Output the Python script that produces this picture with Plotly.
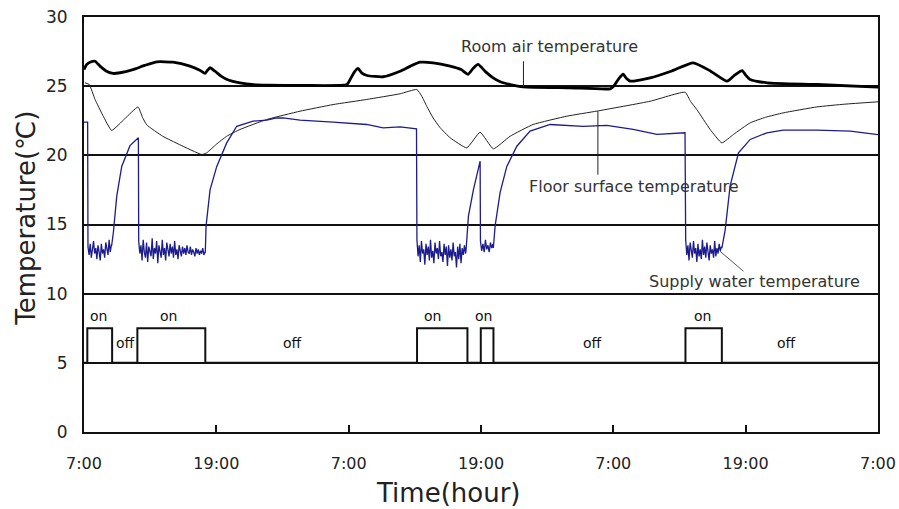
import numpy as np
import plotly.graph_objects as go

# ---------------- data (time in hours from 7:00 of day 1) ----------------
tick_hours = [0, 12, 24, 36, 48, 60, 72]
tick_text = ["7:00", "19:00", "7:00", "19:00", "7:00", "19:00", "7:00"]

room_t = [0.0, 0.24, 0.6, 1.0, 1.45, 2.0, 2.63, 3.27, 4.44, 5.5, 6.62, 8.07, 9.61, 10.5, 10.98,
          11.2, 11.43, 11.88, 12.4, 12.97, 13.5, 14.15, 15.2, 16.6, 20.0, 23.85, 24.13, 24.5,
          24.85, 25.2, 25.67, 27.12, 28.66, 29.6, 30.48, 31.66, 33.2, 34.2, 34.83, 35.3, 35.74,
          36.4, 37.1, 37.8, 38.64, 39.82, 44.0, 47.71, 47.98, 48.5, 48.89, 49.2, 49.52, 51.34,
          53.3, 55.24, 56.8, 58.32, 59.0, 59.68, 60.0, 60.41, 61.95, 66.49, 72.0]
room_v = [26.2, 26.57, 26.75, 26.8, 26.45, 26.1, 25.92, 25.97, 26.2, 26.5, 26.76, 26.73, 26.45,
          26.15, 25.92, 26.15, 26.33, 26.08, 25.75, 25.48, 25.35, 25.24, 25.12, 25.07, 25.05,
          25.12, 25.48, 26.0, 26.28, 25.95, 25.77, 25.68, 26.08, 26.45, 26.73, 26.69, 26.45,
          26.2, 25.86, 26.3, 26.57, 26.05, 25.6, 25.3, 25.12, 24.95, 24.88, 24.81, 24.95,
          25.55, 25.86, 25.55, 25.36, 25.6, 26.1, 26.69, 26.1, 25.36, 25.8, 26.13, 25.8, 25.48,
          25.24, 25.12, 24.93]

floor_t = [0.09, 0.48, 1.0, 1.7, 2.51, 3.7, 4.9, 5.3, 5.69, 7.14, 8.65, 10.68, 11.13, 12.0,
           12.94, 14.15, 16.57, 19.59, 22.59, 25.64, 28.66, 30.18, 30.63, 31.08, 31.66, 32.29,
           33.2, 34.71, 35.92, 37.12, 38.64, 40.73, 43.78, 46.53, 51.34, 54.51, 55.0, 55.57,
           56.78, 57.84, 58.89, 60.41, 61.8, 63.4, 66.46, 69.0, 72.0]
floor_v = [25.24, 25.12, 24.04, 22.9, 21.8, 22.65, 23.5, 22.75, 22.2, 21.38, 20.78, 20.06, 20.18,
           20.8, 21.38, 21.87, 22.59, 23.19, 23.67, 24.04, 24.45, 24.76, 24.27, 23.55, 22.7,
           22.0, 21.27, 20.54, 21.67, 20.47, 21.38, 22.23, 22.83, 23.2, 23.91, 24.56, 23.9,
           23.31, 21.87, 20.9, 21.51, 22.35, 22.75, 23.07, 23.5, 23.7, 23.87]

# supply water: smooth parts
sw0_t = [0.0, 0.33]
sw0_v = [22.4, 22.4]
rise1_t = [2.51, 2.66, 2.97, 3.42, 4.17, 4.93]
rise1_v = [13.5, 14.4, 17.05, 19.2, 20.7, 21.27]
rise2_t = [11.0, 11.07, 11.43, 12.04, 12.94, 13.85, 14.6, 15.33, 16.57, 17.48, 18.05, 19.59,
           22.59, 25.64, 27.12, 28.66, 30.15]
rise2_v = [13.0, 14.9, 17.5, 19.2, 20.9, 22.1, 22.3, 22.47, 22.54, 22.7, 22.71, 22.54,
           22.4, 22.23, 21.99, 22.06, 21.92]
rise3_t = [34.65, 34.86, 35.31, 35.92]
rise3_v = [13.2, 15.6, 17.5, 19.58]
rise4_t = [37.12, 37.28, 37.73, 38.34, 39.25, 40.45, 42.27, 44.35, 45.26, 47.41, 49.8, 51.95, 54.5]
rise4_v = [13.3, 14.9, 17.3, 19.2, 20.66, 21.75, 22.23, 22.16, 22.1, 22.16, 21.87, 21.51, 21.63]
rise5_t = [57.84, 58.14, 58.59, 59.35, 60.41, 61.92, 63.4, 66.46, 69.48, 72.0]
rise5_v = [13.3, 14.6, 17.8, 20.18, 21.15, 21.63, 21.82, 21.82, 21.75, 21.5]

# supply water: noisy low parts while pump on
low1_span = [0.36, 2.48]
low1_v = [13.4, 12.8, 13.6, 12.6, 13.2, 13.8, 12.9, 13.3, 12.5, 13.5, 13.0, 12.4, 13.6, 12.9,
          13.2, 12.6, 13.7, 13.1, 12.8, 13.9, 13.0, 13.5]
low2_span = [4.96, 10.97]
low2_v = [13.8, 12.9, 13.5, 12.4, 13.9, 13.0, 12.6, 13.7, 12.3, 13.4, 13.1, 12.7, 14.0, 12.5,
          13.3, 12.9, 13.8, 12.2, 13.5, 13.0, 12.6, 13.9, 12.8, 13.3, 12.4, 13.7, 13.0, 12.7,
          13.6, 12.9, 13.4, 12.6, 13.8, 12.8, 13.2, 12.5, 13.5, 13.0, 12.7, 13.4, 12.9, 13.3,
          12.8, 13.5, 13.0, 12.9, 13.4, 12.8, 13.2, 13.0, 12.7, 13.3, 12.9, 13.2, 12.8, 13.1,
          12.9, 13.3, 12.8, 13.0]
low3_span = [30.19, 34.6]
low3_v = [13.9, 12.7, 13.5, 12.3, 13.8, 12.9, 13.2, 12.1, 13.6, 12.8, 13.4, 12.4, 13.9, 12.6,
          13.1, 12.2, 13.7, 12.9, 13.3, 12.5, 13.8, 12.7, 13.0, 12.3, 13.6, 12.8, 13.4, 12.0,
          13.5, 12.6, 13.2, 12.4, 13.7, 12.7, 13.0, 11.9, 13.4, 12.5, 13.6, 12.2, 13.3, 12.8,
          13.5, 12.9]
low4_span = [35.95, 37.08]
low4_v = [13.8, 13.1, 13.6, 13.0, 13.9, 13.2, 13.5, 13.0, 13.7, 13.3, 13.6]
low5_span = [54.56, 57.8]
low5_v = [13.9, 12.8, 13.5, 12.4, 13.7, 13.0, 12.6, 13.8, 12.9, 13.3, 12.3, 13.6, 12.7, 13.2,
          12.5, 13.9, 12.8, 13.4, 12.6, 13.7, 13.0, 12.4, 13.5, 12.9, 13.2, 12.6, 13.8, 12.7,
          13.3, 12.9, 13.6, 13.1, 13.4]

# pump on/off status (5 = off, 7.5 = on)
pump_t = [0.0, 0.3, 2.55, 4.84, 11.0, 30.2, 34.77, 35.98, 37.13, 54.54, 57.84, 72.0]
pump_v = [5.0, 7.5, 5.0, 7.5, 5.0, 7.5, 5.0, 7.5, 5.0, 7.5, 5.0, 5.0]

on_label_t = [1.27, 7.65, 31.6, 36.19, 56.08]
off_label_t = [3.79, 18.87, 46.1, 63.67]

# --------------------------------------------------------------------------
def low(span, vals):
    return list(np.linspace(span[0], span[1], len(vals))), list(vals)

supply_t, supply_v = [], []
for part in [(sw0_t, sw0_v), low(low1_span, low1_v), (rise1_t, rise1_v), low(low2_span, low2_v),
             (rise2_t, rise2_v), low(low3_span, low3_v), (rise3_t, rise3_v), low(low4_span, low4_v),
             (rise4_t, rise4_v), low(low5_span, low5_v), (rise5_t, rise5_v)]:
    supply_t += list(part[0])
    supply_v += list(part[1])

fig = go.Figure()
fig.add_trace(go.Scatter(x=pump_t, y=pump_v, mode="lines", line=dict(color="#111", width=2, shape="hv"),
                         showlegend=False, hoverinfo="skip"))
fig.add_trace(go.Scatter(x=floor_t, y=floor_v, mode="lines",
                         line=dict(color="#222", width=1, shape="spline", smoothing=0.4),
                         showlegend=False))
fig.add_trace(go.Scatter(x=supply_t, y=supply_v, mode="lines", line=dict(color="#1c1c8e", width=1.3),
                         showlegend=False))
fig.add_trace(go.Scatter(x=room_t, y=room_v, mode="lines",
                         line=dict(color="#000", width=2.8, shape="spline", smoothing=0.5),
                         showlegend=False))

annots = []
lab_font = dict(family="DejaVu Sans", size=16, color="#333")
annots.append(dict(x=42.2, y=27.89, text="Room air temperature", showarrow=False, font=lab_font))
annots.append(dict(x=49.88, y=17.77, text="Floor surface temperature", showarrow=False, font=lab_font))
annots.append(dict(x=60.79, y=10.9, text="Supply water temperature", showarrow=False, font=lab_font))
sm_font = dict(family="DejaVu Sans", size=14, color="#111")
for t in on_label_t:
    annots.append(dict(x=t, y=8.37, text="on", showarrow=False, font=sm_font))
for t in off_label_t:
    annots.append(dict(x=t, y=6.47, text="off", showarrow=False, font=sm_font))
for a in annots:
    a["xref"] = "x"
    a["yref"] = "y"
annots.append(dict(xref="paper", yref="paper", x=0.458, y=-0.146, xanchor="center", yanchor="middle",
                   text="Time(hour)", showarrow=False,
                   font=dict(family="DejaVu Sans", size=26, color="#222")))
annots.append(dict(xref="paper", yref="paper", x=-0.073, y=0.514, xanchor="center", yanchor="middle",
                   text="Temperature(℃)", showarrow=False, textangle=-90,
                   font=dict(family="DejaVu Sans", size=26, color="#222")))

shapes = [
    dict(type="line", xref="x", yref="y", x0=39.85, x1=39.85, y0=26.8, y1=24.95, line=dict(color="#222", width=1)),
    dict(type="line", xref="x", yref="y", x0=46.6, x1=46.6, y0=23.19, y1=18.6, line=dict(color="#222", width=1)),
    dict(type="line", xref="x", yref="y", x0=57.67, x1=59.8, y0=13.07, y1=11.62, line=dict(color="#555", width=1)),
]

fig.update_layout(
    width=899, height=509,
    margin=dict(l=84, r=21, t=17, b=77),
    paper_bgcolor="white", plot_bgcolor="white",
    annotations=annots, shapes=shapes,
    showlegend=False,
)
fig.update_xaxes(range=[0, 72], tickvals=tick_hours, ticktext=tick_text, ticks="inside", ticklen=7,
                 tickwidth=1.5, tickcolor="#111", showgrid=False, zeroline=False, automargin=False,
                 showline=True, linecolor="#111", linewidth=2, mirror=True, ticklabeloverflow="allow",
                 tickfont=dict(family="DejaVu Sans", size=16, color="#222"), ticklabelstandoff=16)
fig.update_yaxes(range=[0, 30], tickvals=[0, 5, 10, 15, 20, 25, 30], ticks="", showgrid=True,
                 gridcolor="#111", gridwidth=1.6, zeroline=False, automargin=False,
                 showline=True, linecolor="#111", linewidth=2, mirror=True, ticklabeloverflow="allow",
                 tickfont=dict(family="DejaVu Sans", size=17, color="#222"), ticklabelstandoff=11)

# remove the default 8px page margin so the 899x509 figure fills the window exactly
fig.write_html("out.html", config={"displayModeBar": False},
               post_script="document.body.style.margin='0';document.body.style.overflow='hidden';")
